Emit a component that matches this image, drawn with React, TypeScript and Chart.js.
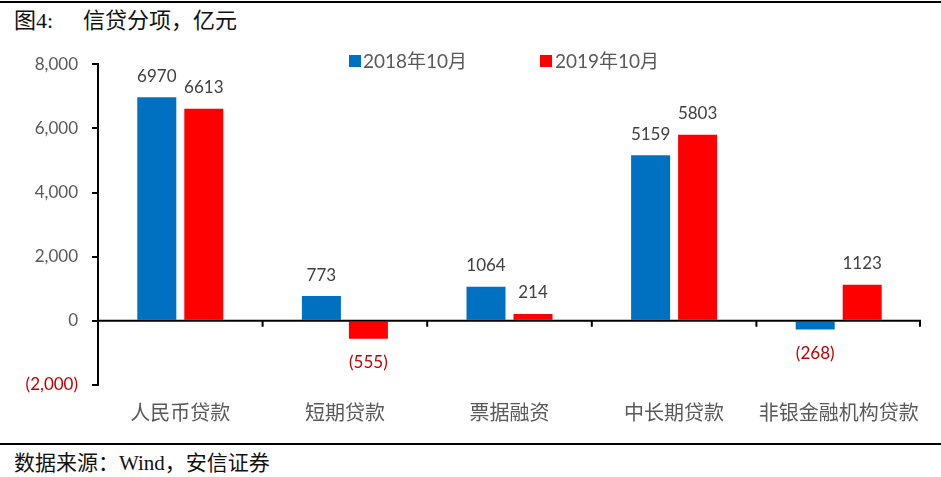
import React, { useEffect, useRef } from "react";
import { Chart, registerables } from "chart.js";
Chart.register(...registerables);

const categories = ["人民币贷款", "短期贷款", "票据融资", "中长期贷款", "非银金融机构贷款"];
const series2018 = [6970, 773, 1064, 5159, -268];
const series2019 = [6613, -555, 214, 5803, 1123];
const seriesNames = ["2018年10月", "2019年10月"];
const yMin = -2000;
const yMax = 8000;
const yStep = 2000;

const BLUE = "#0070C0";
const RED = "#FF0000";
const GRAY = "#595959";
const NEG = "#C00000";
const NUM_FONT = "Lato, 'Noto Sans CJK SC', sans-serif";
const CJK_FONT = "'Noto Sans CJK SC', Lato, sans-serif";
const SERIF = "'Liberation Serif', 'DejaVu Serif', 'Noto Sans CJK SC', serif";

const fmtTick = (v: number) => {
  const s = Math.abs(v).toLocaleString("en-US");
  return v < 0 ? `(${s})` : s;
};
const fmtLabel = (v: number) => (v < 0 ? `(${Math.abs(v)})` : `${v}`);

const zeroAxisPlugin = {
  id: "zeroAxis",
  afterDatasetsDraw(chart: any) {
    const { ctx, chartArea, scales } = chart;
    const y0 = scales.y.getPixelForValue(0);
    const n = categories.length;
    ctx.save();
    ctx.strokeStyle = "#000";
    ctx.lineWidth = 2;
    ctx.beginPath();
    ctx.moveTo(chartArea.left, y0);
    ctx.lineTo(chartArea.right, y0);
    for (let i = 1; i <= n; i++) {
      const x = i < n
        ? (scales.x.getPixelForValue(i - 1) + scales.x.getPixelForValue(i)) / 2
        : chartArea.right - 1;
      ctx.moveTo(x, y0);
      ctx.lineTo(x, y0 + 6);
    }
    ctx.stroke();
    ctx.restore();
  },
};

const valueLabelPlugin = {
  id: "valueLabels",
  afterDatasetsDraw(chart: any) {
    const { ctx } = chart;
    ctx.save();
    ctx.font = `17px ${NUM_FONT}`;
    ctx.textAlign = "center";
    ctx.textBaseline = "middle";
    chart.data.datasets.forEach((ds: any, di: number) => {
      const meta = chart.getDatasetMeta(di);
      meta.data.forEach((bar: any, i: number) => {
        const v = ds.data[i] as number;
        if (v >= 0) {
          ctx.fillStyle = "#404040";
          ctx.fillText(fmtLabel(v), bar.x, bar.y - 21);
        } else {
          ctx.fillStyle = NEG;
          ctx.fillText(fmtLabel(v), bar.x, bar.y + 24);
        }
      });
    });
    ctx.restore();
  },
};

function ChartCanvas() {
  const ref = useRef<HTMLCanvasElement | null>(null);
  useEffect(() => {
    if (!ref.current) return;
    const chart = new Chart(ref.current, {
      type: "bar",
      data: {
        labels: categories,
        datasets: [
          { label: seriesNames[0], data: series2018, backgroundColor: BLUE },
          { label: seriesNames[1], data: series2019, backgroundColor: RED },
        ],
      },
      options: {
        responsive: false,
        animation: false,
        datasets: { bar: { categoryPercentage: 0.571, barPercentage: 0.83 } },
        layout: { padding: { top: 24, right: 20, left: 0, bottom: 0 } },
        plugins: { legend: { display: false }, tooltip: { enabled: false } },
        scales: {
          x: {
            grid: { display: false, drawTicks: false },
            border: { display: false },
            ticks: {
              color: GRAY,
              font: { size: 20, family: CJK_FONT },
              padding: 15,
              maxRotation: 0,
              autoSkip: false,
            },
            afterFit: (s: any) => { s.height = 55; },
          },
          y: {
            min: yMin,
            max: yMax,
            grid: { display: true, drawOnChartArea: false, drawTicks: true, tickLength: 6, color: "#000", lineWidth: 2 },
            border: { display: true, color: "#000", width: 2 },
            ticks: {
              stepSize: yStep,
              callback: (v: any) => fmtTick(Number(v)),
              color: (c: any) => (c.tick && c.tick.value < 0 ? NEG : GRAY),
              font: { size: 17, family: NUM_FONT },
              padding: 14,
            },
            afterFit: (s: any) => { s.width = 98; },
          },
        },
      },
      plugins: [zeroAxisPlugin, valueLabelPlugin],
    });
    return () => chart.destroy();
  }, []);
  return (
    <canvas
      ref={ref}
      width={941}
      height={400}
      style={{ position: "absolute", left: 0, top: 40, width: 941, height: 400 }}
    />
  );
}

export default function App() {
  const legendText: React.CSSProperties = {
    position: "absolute",
    top: 49,
    fontFamily: NUM_FONT,
    fontSize: 19,
    color: GRAY,
    lineHeight: "24px",
    whiteSpace: "nowrap",
  };
  return (
    <div
      style={{
        position: "fixed",
        left: 0,
        top: 0,
        width: 941,
        height: 477,
        background: "#fff",
        overflow: "hidden",
      }}
    >
      <div style={{ position: "absolute", left: 0, top: 1, width: 941, height: 2, background: "#000" }} />
      <div style={{ position: "absolute", left: 14, top: 7, fontFamily: SERIF, fontSize: 22, lineHeight: "28px", color: "#111", whiteSpace: "nowrap" }}>
        图4:
      </div>
      <div style={{ position: "absolute", left: 83, top: 7, fontFamily: SERIF, fontSize: 22, lineHeight: "28px", color: "#111", whiteSpace: "nowrap" }}>
        信贷分项，亿元
      </div>
      <ChartCanvas />
      <div style={{ position: "absolute", left: 349, top: 55, width: 12, height: 12, background: BLUE }} />
      <div style={{ ...legendText, left: 363 }}>{seriesNames[0]}</div>
      <div style={{ position: "absolute", left: 540, top: 55, width: 12, height: 12, background: RED }} />
      <div style={{ ...legendText, left: 555 }}>{seriesNames[1]}</div>
      <div style={{ position: "absolute", left: 0, top: 443, width: 941, height: 2, background: "#000" }} />
      <div style={{ position: "absolute", left: 14, top: 450, fontFamily: SERIF, fontSize: 21, lineHeight: "26px", color: "#111", whiteSpace: "nowrap" }}>
        数据来源：Wind，安信证券
      </div>
    </div>
  );
}
